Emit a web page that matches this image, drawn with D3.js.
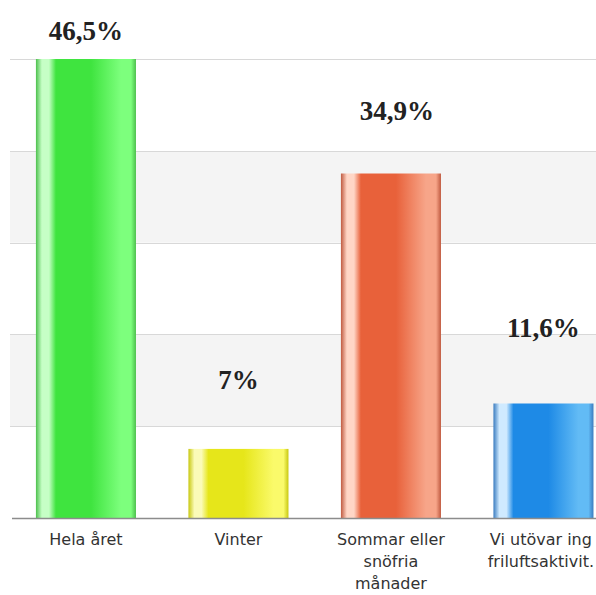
<!DOCTYPE html>
<html>
<head>
<meta charset="utf-8">
<script src="https://cdn.jsdelivr.net/npm/d3@7"></script>
<style>
  html, body { margin: 0; padding: 0; background: #fff; overflow: hidden; }
  svg { display: block; }
</style>
</head>
<body>
<div id="chart"></div>
<script>
// data
const categories = ["Hela året", "Vinter", "Sommar eller snöfria månader", "Vi utövar ing friluftsaktivit."];
const catLines = [["Hela året"], ["Vinter"], ["Sommar eller", "snöfria", "månader"], ["Vi utövar ing", "friluftsaktivit."]];
const values = [46.5, 7, 34.9, 11.6];
const valueLabels = ["46,5%", "7%", "34,9%", "11,6%"];

// look
const barColors = [
  { edge: "#4cc04c", hi: "#c6ffc6", main: "#3fe43f", light: "#7dff7d" },
  { edge: "#c8c810", hi: "#fbfbb8", main: "#e6e61a", light: "#fafa6a" },
  { edge: "#c05a40", hi: "#ffd6c6", main: "#e8613a", light: "#f7a589" },
  { edge: "#3a7cc0", hi: "#cfeaff", main: "#1e8ae6", light: "#62bbf5" }
];
const labelLift = [19, 60, 54, 66];   // px between bar top and value label baseline
const labelShift = [0, 0, 6, 0];

const W = 596, H = 595;
const plotBase = 518, plotTop = 59;
const bandCount = 5;

const svg = d3.select("#chart").append("svg")
  .attr("width", W).attr("height", H);

const x = d3.scaleBand()
  .domain(categories)
  .range([10, 619.4])
  .paddingInner(0.344)
  .paddingOuter(0.17);

const yMax = d3.max(values);
const y = d3.scaleLinear().domain([0, yMax]).range([plotBase, plotTop]);
const gridVals = d3.range(bandCount + 1).map(i => yMax * i / bandCount);

// alternating bands
const g = svg.append("g");
g.selectAll("rect.band")
  .data(gridVals.slice(0, -1))
  .join("rect")
  .attr("class", "band")
  .attr("x", 10)
  .attr("width", W - 10)
  .attr("y", (d, i) => y(gridVals[i + 1]))
  .attr("height", (d, i) => y(d) - y(gridVals[i + 1]))
  .attr("fill", (d, i) => i % 2 === 1 ? "#f4f4f4" : "#fff");

g.selectAll("line.grid")
  .data(gridVals.slice(1))
  .join("line")
  .attr("class", "grid")
  .attr("x1", 10).attr("x2", W)
  .attr("y1", d => Math.round(y(d)) + 0.5)
  .attr("y2", d => Math.round(y(d)) + 0.5)
  .attr("stroke", "#d8d8d8");

// gradients
const defs = svg.append("defs");
barColors.forEach((c, i) => {
  const gr = defs.append("linearGradient").attr("id", "bar" + i)
    .attr("x1", 0).attr("x2", 1).attr("y1", 0).attr("y2", 0);
  [[0, c.edge], [0.06, c.hi], [0.13, c.hi], [0.2, c.main], [0.55, c.main], [0.85, c.light], [0.95, c.light], [1, c.edge]]
    .forEach(s => gr.append("stop").attr("offset", s[0]).attr("stop-color", s[1]));
});

// bars
g.selectAll("rect.bar")
  .data(values)
  .join("rect")
  .attr("class", "bar")
  .attr("x", (d, i) => x(categories[i]))
  .attr("width", x.bandwidth())
  .attr("y", d => y(d))
  .attr("height", d => plotBase - y(d))
  .attr("fill", (d, i) => `url(#bar${i})`);

// baseline
g.append("line")
  .attr("x1", 12).attr("x2", W)
  .attr("y1", plotBase + 0.5).attr("y2", plotBase + 0.5)
  .attr("stroke", "#8c8c8c").attr("stroke-width", 1.5);

// value labels
g.selectAll("text.val")
  .data(values)
  .join("text")
  .attr("class", "val")
  .attr("x", (d, i) => x(categories[i]) + x.bandwidth() / 2 + labelShift[i])
  .attr("y", (d, i) => y(d) - labelLift[i])
  .attr("text-anchor", "middle")
  .style("font-family", "'Liberation Serif', 'Times New Roman', serif")
  .style("font-weight", "bold")
  .style("font-size", "27px")
  .attr("fill", "#222")
  .text((d, i) => valueLabels[i]);

// category labels
const cat = g.selectAll("text.cat")
  .data(categories)
  .join("text")
  .attr("class", "cat")
  .attr("text-anchor", "middle")
  .attr("x", d => x(d) + x.bandwidth() / 2)
  .attr("y", plotBase + 27)
  .style("font-family", "'DejaVu Sans', Verdana, sans-serif")
  .style("font-size", "16px")
  .attr("fill", "#333");

cat.selectAll("tspan")
  .data((d, i) => catLines[i])
  .join("tspan")
  .attr("x", function () { return this.parentNode.getAttribute("x"); })
  .attr("dy", (d, i) => i === 0 ? 0 : 22)
  .text(d => d);

// keep labels inside the window on the right
cat.each(function () {
  const bb = this.getBBox();
  const over = bb.x + bb.width - (W - 2);
  if (over > 0) {
    const t = d3.select(this);
    const nx = +t.attr("x") - over;
    t.attr("x", nx).selectAll("tspan").attr("x", nx);
  }
});
</script>
</body>
</html>
